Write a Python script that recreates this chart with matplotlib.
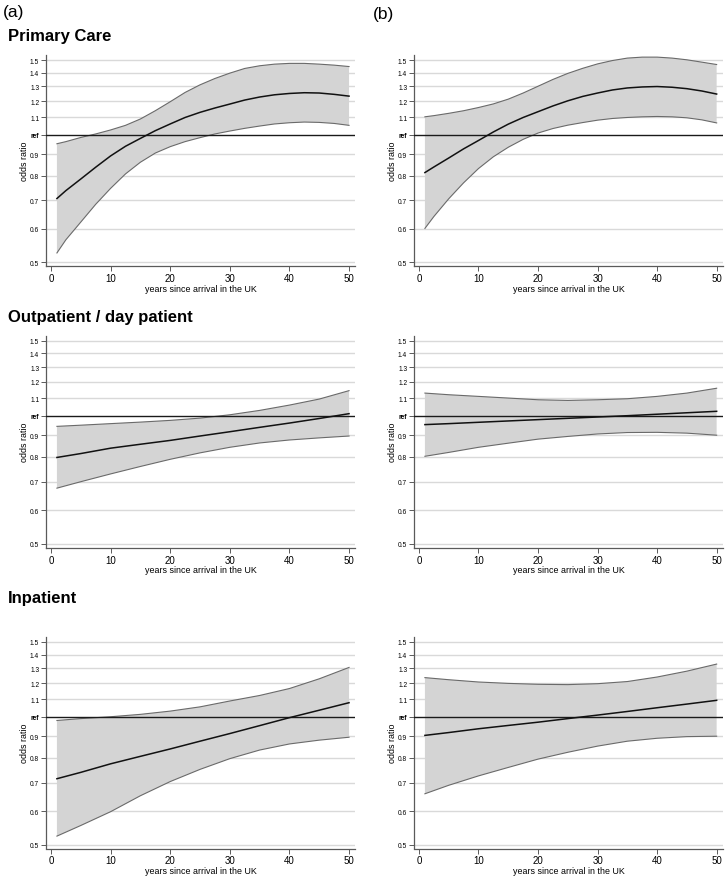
import matplotlib
matplotlib.use("Agg")
import matplotlib.pyplot as plt
import matplotlib.ticker as mticker

plt.rcParams['font.family'] = ['Liberation Sans', 'DejaVu Sans']

# ---------------- data ----------------
years_fine = [1, 2.5, 5, 7.5, 10, 12.5, 15, 17.5, 20, 22.5, 25, 27.5, 30,
              32.5, 35, 37.5, 40, 42.5, 45, 47.5, 50]
years = [1, 5, 10, 15, 20, 25, 30, 35, 40, 45, 50]

# Primary care (read at years_fine)
pc_a_mean = [0.707, 0.738, 0.786, 0.838, 0.891, 0.939, 0.980, 1.022, 1.060, 1.098, 1.129,
             1.156, 1.181, 1.207, 1.227, 1.242, 1.251, 1.256, 1.254, 1.245, 1.233]
pc_a_upper = [0.952, 0.963, 0.985, 1.004, 1.026, 1.052, 1.089, 1.139, 1.196, 1.258, 1.311,
              1.357, 1.397, 1.433, 1.454, 1.467, 1.473, 1.473, 1.467, 1.459, 1.448]
pc_a_lower = [0.526, 0.565, 0.622, 0.685, 0.747, 0.808, 0.861, 0.905, 0.937, 0.963, 0.984,
              1.004, 1.020, 1.035, 1.048, 1.060, 1.067, 1.071, 1.069, 1.063, 1.052]

pc_b_mean = [0.814, 0.839, 0.881, 0.926, 0.969, 1.015, 1.059, 1.098, 1.133, 1.169, 1.202,
             1.231, 1.254, 1.275, 1.289, 1.296, 1.299, 1.294, 1.284, 1.268, 1.247]
pc_b_upper = [1.102, 1.109, 1.123, 1.139, 1.159, 1.182, 1.213, 1.254, 1.301, 1.350, 1.395,
              1.434, 1.469, 1.496, 1.516, 1.524, 1.524, 1.516, 1.502, 1.483, 1.464]
pc_b_lower = [0.601, 0.641, 0.706, 0.770, 0.832, 0.887, 0.934, 0.975, 1.009, 1.034, 1.053,
              1.068, 1.082, 1.092, 1.098, 1.102, 1.104, 1.102, 1.096, 1.084, 1.066]

# Outpatient / day patient (read at years)
op_a_mean = [0.798, 0.815, 0.839, 0.857, 0.875, 0.896, 0.917, 0.939, 0.961, 0.985, 1.011]
op_a_upper = [0.944, 0.95, 0.958, 0.966, 0.975, 0.987, 1.005, 1.029, 1.059, 1.094, 1.145]
op_a_lower = [0.676, 0.70, 0.73, 0.76, 0.79, 0.818, 0.843, 0.863, 0.877, 0.887, 0.896]

op_b_mean = [0.953, 0.958, 0.965, 0.972, 0.979, 0.986, 0.993, 1.0, 1.008, 1.016, 1.024]
op_b_upper = [1.13, 1.12, 1.11, 1.10, 1.09, 1.086, 1.09, 1.096, 1.11, 1.13, 1.16]
op_b_lower = [0.803, 0.82, 0.843, 0.862, 0.881, 0.894, 0.906, 0.913, 0.914, 0.91, 0.90]

# Inpatient (read at years)
ip_a_mean = [0.715, 0.74, 0.775, 0.807, 0.84, 0.876, 0.913, 0.953, 0.995, 1.036, 1.079]
ip_a_upper = [0.98, 0.99, 1.0, 1.013, 1.031, 1.055, 1.089, 1.122, 1.165, 1.228, 1.306]
ip_a_lower = [0.524, 0.555, 0.598, 0.652, 0.704, 0.752, 0.797, 0.835, 0.863, 0.881, 0.895]

ip_b_mean = [0.904, 0.918, 0.937, 0.954, 0.971, 0.99, 1.009, 1.029, 1.05, 1.071, 1.093]
ip_b_upper = [1.236, 1.222, 1.207, 1.198, 1.192, 1.19, 1.196, 1.21, 1.24, 1.28, 1.33]
ip_b_lower = [0.659, 0.69, 0.726, 0.76, 0.795, 0.825, 0.853, 0.876, 0.89, 0.898, 0.90]

row_titles = ["Primary Care", "Outpatient / day patient", "Inpatient"]
col_labels = ["(a)", "(b)"]
y_ticks = [0.5, 0.6, 0.7, 0.8, 0.9, 1.0, 1.1, 1.2, 1.3, 1.4, 1.5]
y_ticklabels = ["0.5", "0.6", "0.7", "0.8", "0.9", "ref", "1.1", "1.2", "1.3", "1.4", "1.5"]
x_ticks = [0, 10, 20, 30, 40, 50]
x_label = "years since arrival in the UK"
y_label = "odds ratio"

panels = [
    [(years_fine, pc_a_mean, pc_a_lower, pc_a_upper), (years_fine, pc_b_mean, pc_b_lower, pc_b_upper)],
    [(years, op_a_mean, op_a_lower, op_a_upper), (years, op_b_mean, op_b_lower, op_b_upper)],
    [(years, ip_a_mean, ip_a_lower, ip_a_upper), (years, ip_b_mean, ip_b_lower, ip_b_upper)],
]

# ---------------- layout ----------------
W, H = 725, 878
fig = plt.figure(figsize=(W / 100, H / 100), dpi=100)

# pixel boxes (left, right, top, bottom)
col_x = [(46.2, 355.0), (414.2, 722.6)]
row_y = [(56.2, 267.0), (336.8, 548.7), (638.0, 849.5)]

def px_axes(l, r, t, b):
    return fig.add_axes([l / W, 1 - b / H, (r - l) / W, (b - t) / H])

grid_col = "#d9d9d9"
spine_col = "#5a5a5a"

for i, row in enumerate(panels):
    for j, (xs, m, lo, up) in enumerate(row):
        l, r = col_x[j]
        t, b = row_y[i]
        ax = px_axes(l, r, t, b)
        ax.set_yscale("log")
        ax.set_xlim(-0.8, 51.0)
        ax.set_ylim(0.49, 1.54)
        for v in y_ticks:
            if v == 1.0:
                continue
            ax.axhline(v, color=grid_col, lw=1.0, zorder=0)
        ax.fill_between(xs, lo, up, facecolor="#d4d4d4", edgecolor="none", zorder=1)
        ax.plot(xs, lo, color="#6a6a6a", lw=0.8, zorder=2)
        ax.plot(xs, up, color="#6a6a6a", lw=0.8, zorder=2)
        ax.axhline(1.0, color="#1a1a1a", lw=1.0, zorder=3)
        ax.plot(xs, m, color="#111111", lw=1.1, zorder=4)

        ax.set_yticks(y_ticks)
        ax.set_yticklabels(y_ticklabels)
        ax.yaxis.set_minor_locator(mticker.NullLocator())
        ax.yaxis.set_minor_formatter(mticker.NullFormatter())
        for lab in ax.get_yticklabels():
            if lab.get_text() == "ref":
                lab.set_fontweight("bold")
        ax.set_xticks(x_ticks)
        ax.tick_params(axis="y", labelsize=4.8, length=3.5, width=0.7,
                       color=spine_col, pad=1.5)
        ax.tick_params(axis="x", labelsize=7.0, length=3.5, width=0.7,
                       color=spine_col, pad=1.5)
        for s in ("top", "right"):
            ax.spines[s].set_visible(False)
        for s in ("left", "bottom"):
            ax.spines[s].set_color(spine_col)
            ax.spines[s].set_linewidth(0.9)
        ax.set_xlabel(x_label, fontsize=6.4, labelpad=0.5)
        ax.set_ylabel(y_label, fontsize=6.4, labelpad=1)
        ax.set_facecolor("white")

# row titles
title_base = [40.5, 322.5, 603.5]
for i, ttl in enumerate(row_titles):
    fig.text(8 / W, 1 - title_base[i] / H, ttl, fontsize=12, fontweight="bold",
             ha="left", va="baseline")

# column labels
fig.text(3 / W, 1 - 17.5 / H, col_labels[0], fontsize=12.5, ha="left", va="baseline")
fig.text(373 / W, 1 - 19 / H, col_labels[1], fontsize=12.5, ha="left", va="baseline")

fig.savefig("out.png", dpi=100, facecolor="white")
